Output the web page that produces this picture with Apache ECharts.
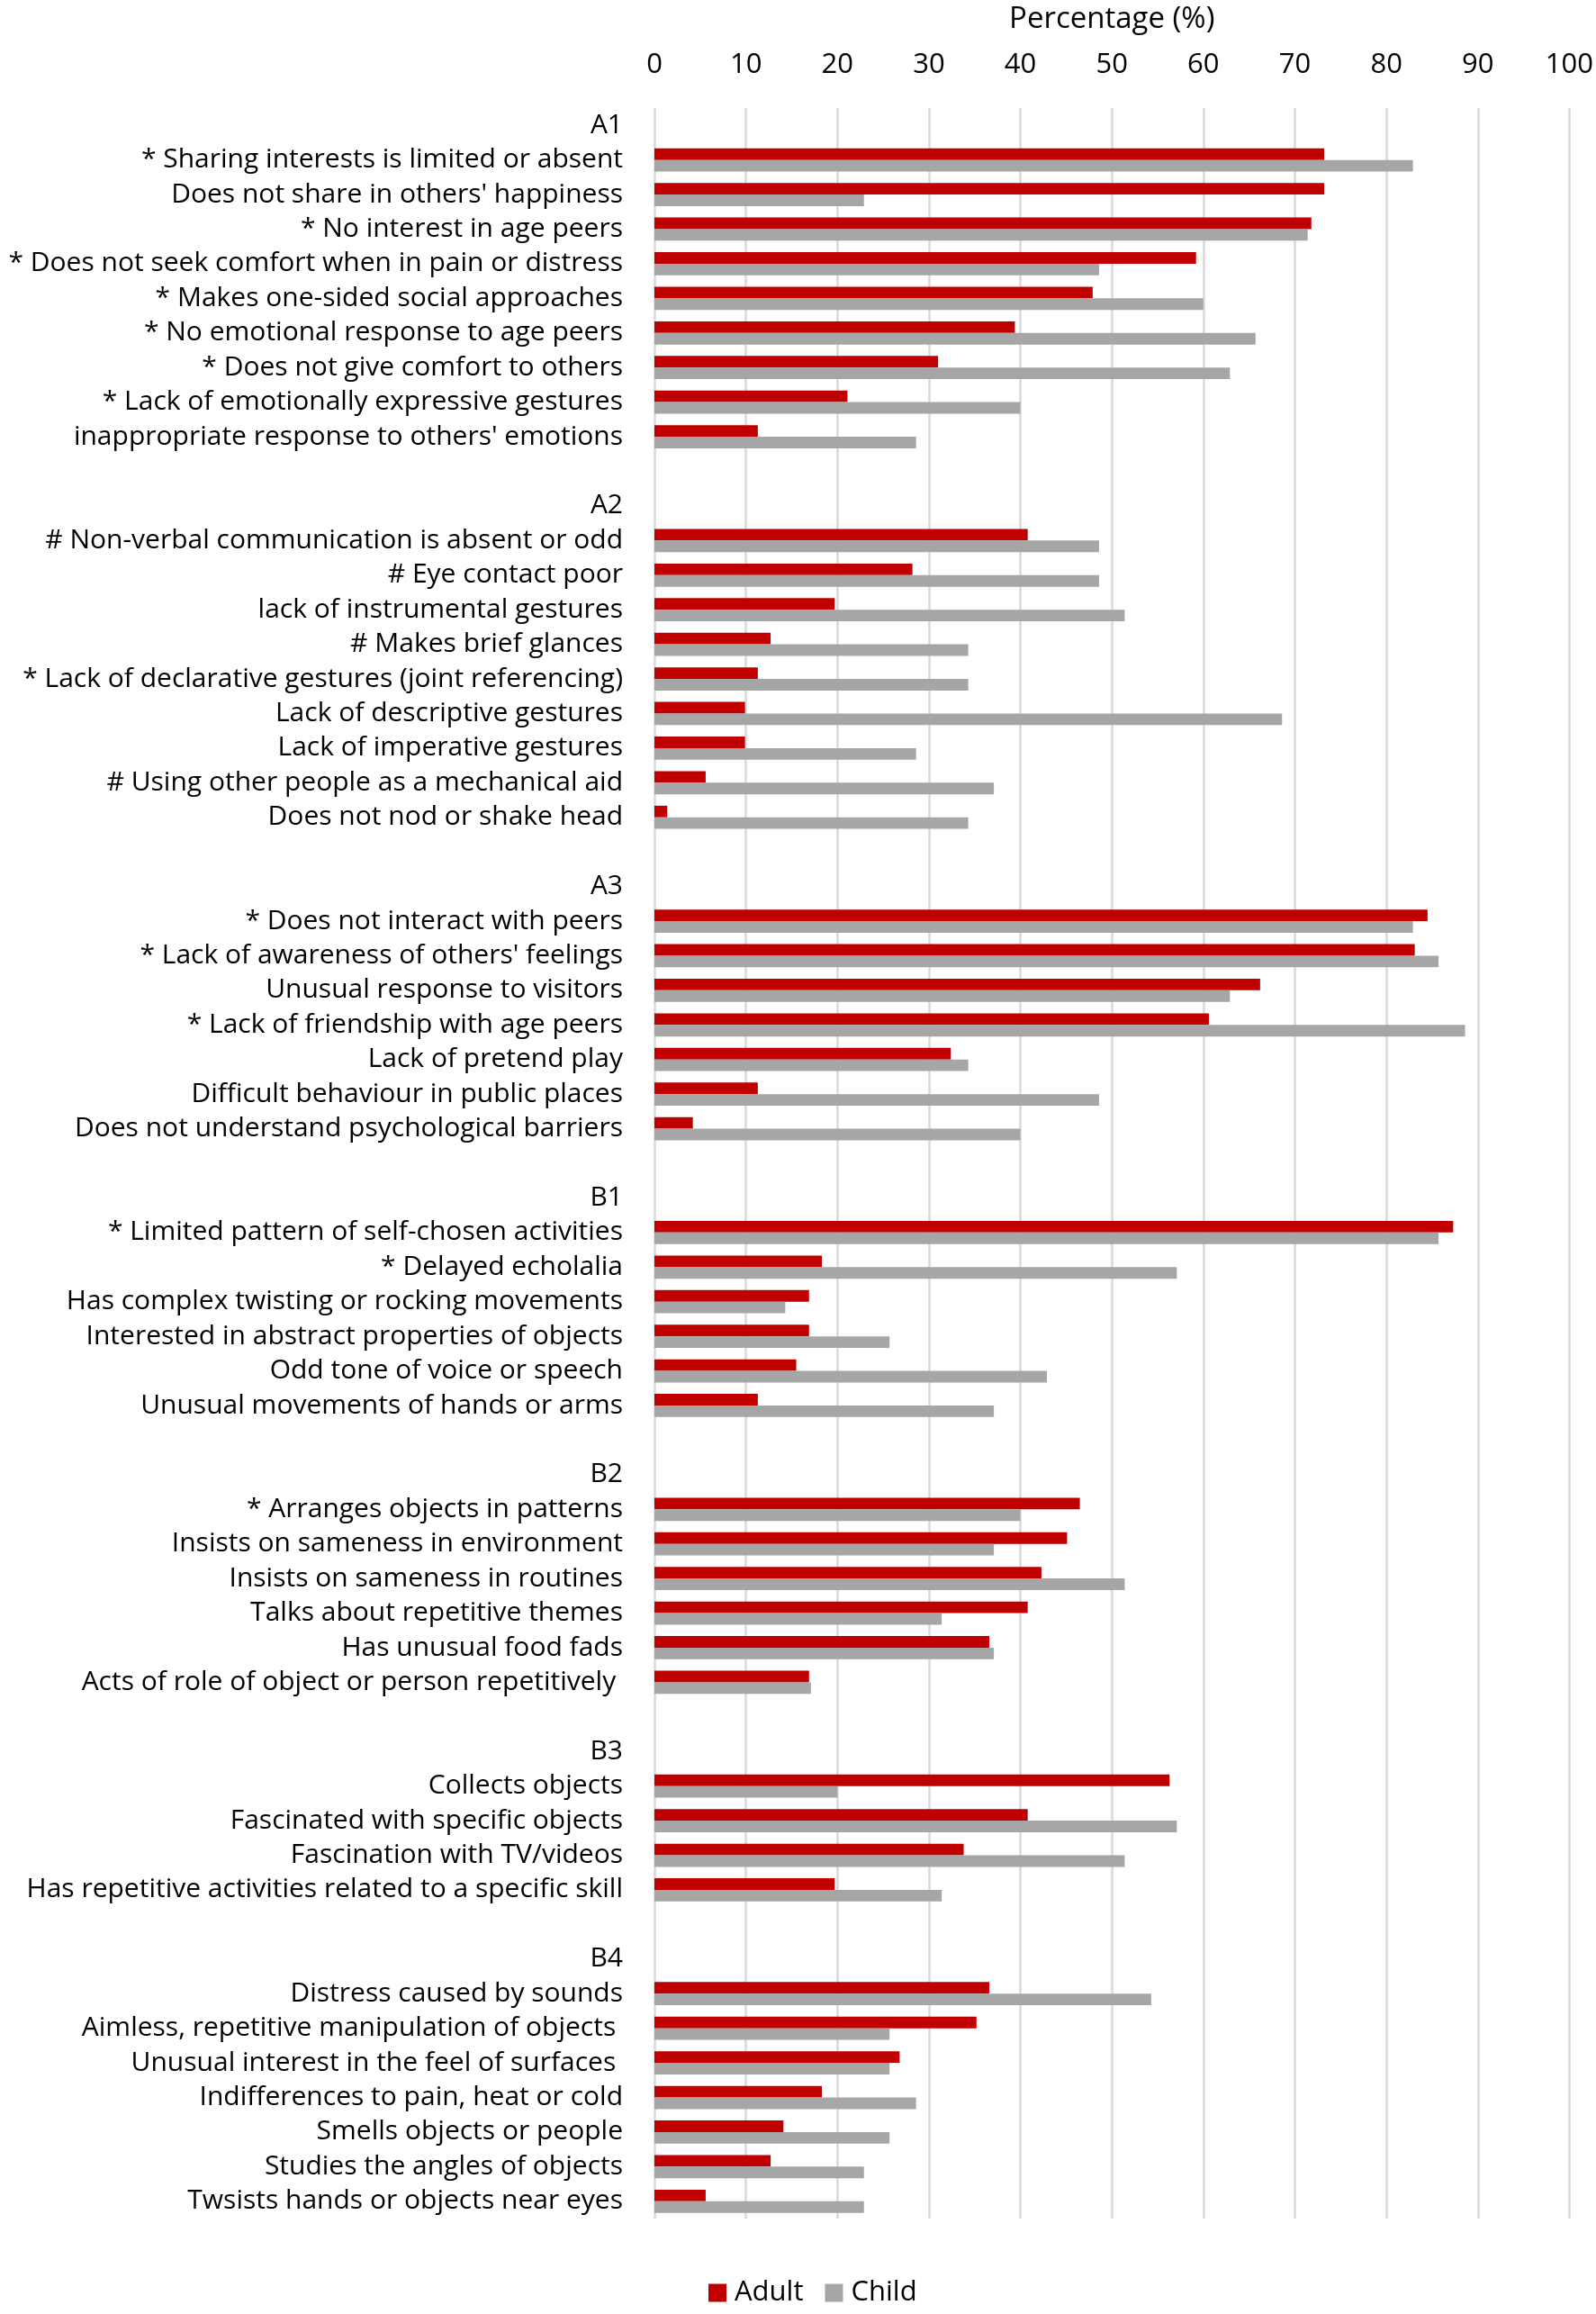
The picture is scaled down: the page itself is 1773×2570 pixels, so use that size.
<!DOCTYPE html>
<html>
<head>
<meta charset="utf-8">
<script src="https://cdn.jsdelivr.net/npm/echarts@6/dist/echarts.min.js"></script>
<style>
html,body{margin:0;padding:0;background:#fff;}
#chart{width:1773px;height:2570px;}
</style>
</head>
<body>
<div id="chart"></div>
<script>
// ---- Data ----
const groupNames = ['A1', 'A2', 'A3', 'B1', 'B2', 'B3', 'B4'];

const a1Labels = ['* Sharing interests is limited or absent', "Does not share in others' happiness", '* No interest in age peers', '* Does not seek comfort when in pain or distress', '* Makes one-sided social approaches', '* No emotional response to age peers', '* Does not give comfort to others', '* Lack of emotionally expressive gestures', "inappropriate response to others' emotions"];
const a1Adult = [73.2, 73.2, 71.8, 59.2, 47.9, 39.4, 31.0, 21.1, 11.3];
const a1Child = [82.9, 22.9, 71.4, 48.6, 60.0, 65.7, 62.9, 40.0, 28.6];

const a2Labels = ['# Non-verbal communication is absent or odd', '# Eye contact poor', 'lack of instrumental gestures', '# Makes brief glances', '* Lack of declarative gestures (joint referencing)', 'Lack of descriptive gestures', 'Lack of imperative gestures', '# Using other people as a mechanical aid', 'Does not nod or shake head'];
const a2Adult = [40.8, 28.2, 19.7, 12.7, 11.3, 9.9, 9.9, 5.6, 1.4];
const a2Child = [48.6, 48.6, 51.4, 34.3, 34.3, 68.6, 28.6, 37.1, 34.3];

const a3Labels = ['* Does not interact with peers', "* Lack of awareness of others' feelings", 'Unusual response to visitors', '* Lack of friendship with age peers', 'Lack of pretend play', 'Difficult behaviour in public places', 'Does not understand psychological barriers'];
const a3Adult = [84.5, 83.1, 66.2, 60.6, 32.4, 11.3, 4.2];
const a3Child = [82.9, 85.7, 62.9, 88.6, 34.3, 48.6, 40.0];

const b1Labels = ['* Limited pattern of self-chosen activities', '* Delayed echolalia', 'Has complex twisting or rocking movements', 'Interested in abstract properties of objects', 'Odd tone of voice or speech', 'Unusual movements of hands or arms'];
const b1Adult = [87.3, 18.3, 16.9, 16.9, 15.5, 11.3];
const b1Child = [85.7, 57.1, 14.3, 25.7, 42.9, 37.1];

const b2Labels = ['* Arranges objects in patterns', 'Insists on sameness in environment', 'Insists on sameness in routines', 'Talks about repetitive themes', 'Has unusual food fads', 'Acts of role of object or person repetitively '];
const b2Adult = [46.5, 45.1, 42.3, 40.8, 36.6, 16.9];
const b2Child = [40.0, 37.1, 51.4, 31.4, 37.1, 17.1];

const b3Labels = ['Collects objects', 'Fascinated with specific objects', 'Fascination with TV/videos', 'Has repetitive activities related to a specific skill'];
const b3Adult = [56.3, 40.8, 33.8, 19.7];
const b3Child = [20.0, 57.1, 51.4, 31.4];

const b4Labels = ['Distress caused by sounds', 'Aimless, repetitive manipulation of objects ', 'Unusual interest in the feel of surfaces ', 'Indifferences to pain, heat or cold', 'Smells objects or people', 'Studies the angles of objects', 'Twsists hands or objects near eyes'];
const b4Adult = [36.6, 35.2, 26.8, 18.3, 14.1, 12.7, 5.6];
const b4Child = [54.3, 25.7, 25.7, 28.6, 25.7, 22.9, 22.9];

const xTicks = [0, 10, 20, 30, 40, 50, 60, 70, 80, 90, 100];
const seriesNames = ['Adult', 'Child'];
const axisTitle = 'Percentage (%)';

// ---- Build categories ----
const groupLabels = [a1Labels, a2Labels, a3Labels, b1Labels, b2Labels, b3Labels, b4Labels];
const groupAdult = [a1Adult, a2Adult, a3Adult, b1Adult, b2Adult, b3Adult, b4Adult];
const groupChild = [a1Child, a2Child, a3Child, b1Child, b2Child, b3Child, b4Child];

const categories = [], adultData = [], childData = [];
groupNames.forEach((g, gi) => {
  if (gi > 0) { categories.push('__gap' + gi); adultData.push(null); childData.push(null); }
  categories.push(g); adultData.push(null); childData.push(null);
  groupLabels[gi].forEach((lab, i) => {
    categories.push(lab);
    adultData.push(groupAdult[gi][i]);
    childData.push(groupChild[gi][i]);
  });
});

const FONT = 'Open Sans';
const chart = echarts.init(document.getElementById('chart'), null, {renderer: 'canvas'});
chart.setOption({
  animation: false,
  backgroundColor: '#ffffff',
  textStyle: {fontFamily: FONT, color: '#000'},
  grid: {left: 727, right: 29, top: 116, bottom: 106, containLabel: false},
  legend: {
    data: seriesNames,
    left: 782, top: 2526,
    itemWidth: 20, itemHeight: 20, itemGap: 24,
    icon: 'rect',
    textStyle: {fontFamily: FONT, fontSize: 31, color: '#000', padding: [0, 0, 0, 4]}
  },
  xAxis: {
    type: 'value', position: 'top',
    min: xTicks[0], max: xTicks[xTicks.length - 1], interval: 10,
    name: axisTitle, nameLocation: 'middle', nameGap: 82,
    nameTextStyle: {fontFamily: FONT, fontSize: 33, color: '#000'},
    axisLine: {show: false}, axisTick: {show: false},
    axisLabel: {fontFamily: FONT, fontSize: 31, color: '#000', margin: 32},
    splitLine: {show: true, lineStyle: {color: '#d9d9d9', width: 2.5}}
  },
  yAxis: {
    type: 'category', inverse: true, data: categories,
    axisLine: {show: false}, axisTick: {show: false},
    axisLabel: {
      fontFamily: FONT, fontSize: 30, color: '#000', margin: 35, interval: 0,
      formatter: v => v.startsWith('__gap') ? '' : v
    }
  },
  series: [
    {name: seriesNames[0], type: 'bar', data: adultData, barGap: '0%', barCategoryGap: '33%',
     itemStyle: {color: '#c00000'}},
    {name: seriesNames[1], type: 'bar', data: childData, barGap: '0%', barCategoryGap: '33%',
     itemStyle: {color: '#a6a6a6'}}
  ]
});
</script>
</body>
</html>
